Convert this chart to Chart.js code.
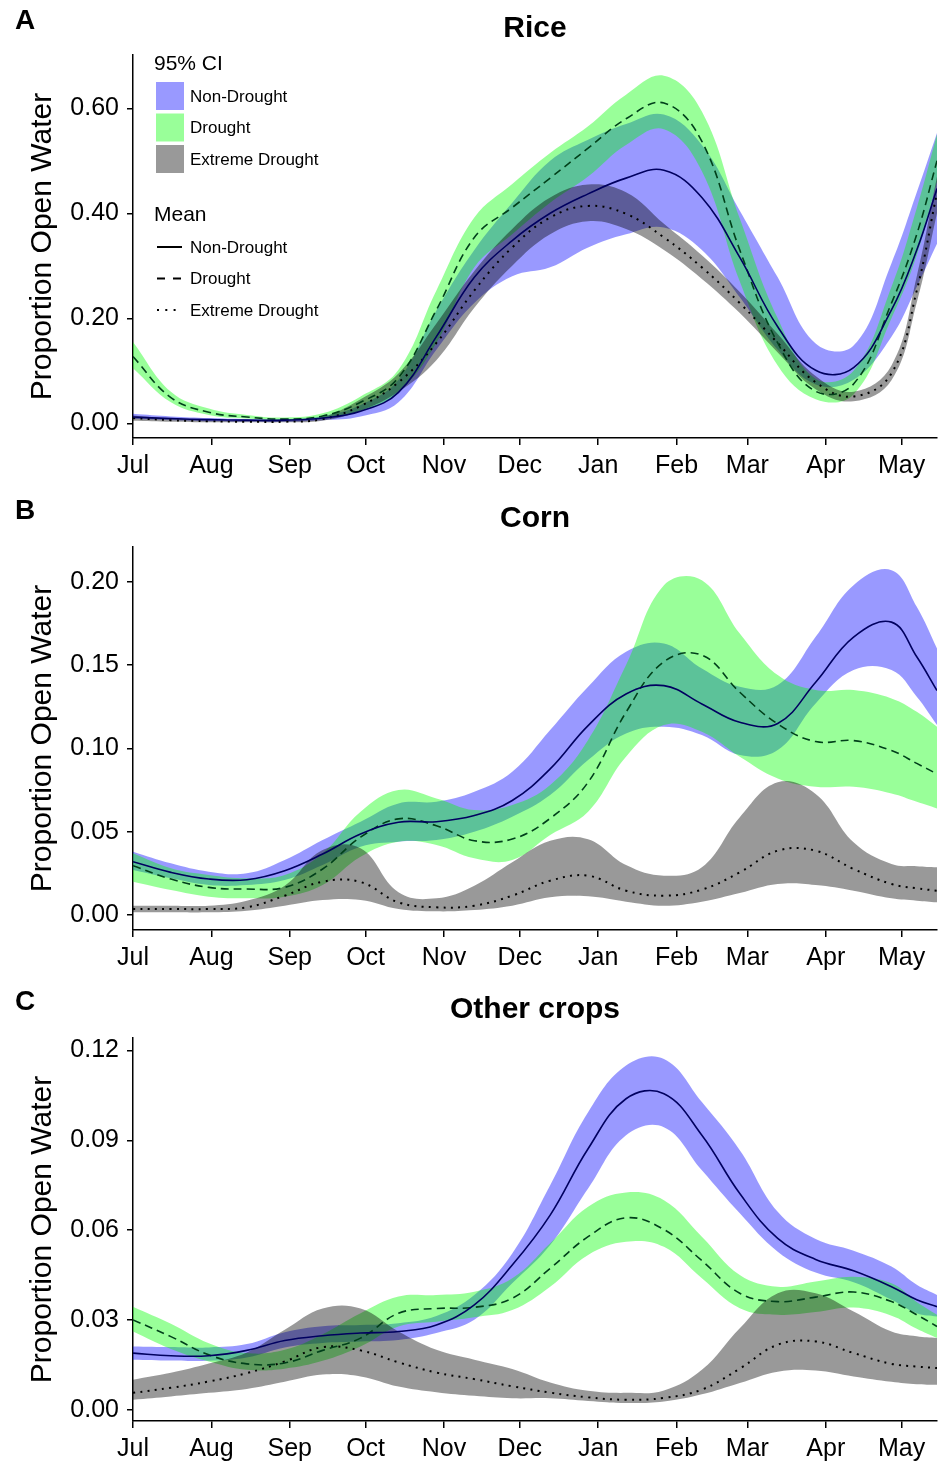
<!DOCTYPE html>
<html>
<head>
<meta charset="utf-8">
<script src="https://cdn.jsdelivr.net/npm/chart.js@4.4.1/dist/chart.umd.min.js"></script>
<style>
  body { margin: 0; background: #fff; }
  #wrap { position: relative; width: 944px; height: 1462px; overflow: hidden; background: #fff; }
  canvas { position: absolute; left: 0; }
</style>
</head>
<body>
<div id="wrap">
  <canvas id="rice" width="944" height="490" style="top:0px"></canvas>
  <canvas id="corn" width="944" height="490" style="top:490px"></canvas>
  <canvas id="other" width="944" height="490" style="top:981px"></canvas>
</div>
<script>
// sample days, counted from 1 July
const days = [0, 15, 30, 45, 60, 75, 90, 105, 120, 135, 150, 165, 180, 195, 210, 225, 240, 255, 270, 285, 300, 310, 318];
const monthDays = [0, 31, 62, 92, 123, 153, 184, 215, 243, 274, 304];
const monthLabels = ["Jul", "Aug", "Sep", "Oct", "Nov", "Dec", "Jan", "Feb", "Mar", "Apr", "May"];
const groupNames = ["Non-Drought", "Drought", "Extreme Drought"];

// Rice
const riceNonMean = [0.012, 0.009, 0.007, 0.006, 0.006, 0.010, 0.023, 0.059, 0.165, 0.278, 0.348, 0.400, 0.437, 0.467, 0.482, 0.430, 0.316, 0.184, 0.101, 0.106, 0.216, 0.330, 0.447];
const riceNonLo = [0.008, 0.006, 0.004, 0.003, 0.003, 0.006, 0.013, 0.040, 0.140, 0.229, 0.280, 0.297, 0.335, 0.360, 0.373, 0.330, 0.240, 0.140, 0.074, 0.083, 0.165, 0.260, 0.342];
const riceNonHi = [0.018, 0.013, 0.010, 0.008, 0.008, 0.014, 0.035, 0.083, 0.215, 0.330, 0.420, 0.500, 0.540, 0.570, 0.588, 0.530, 0.405, 0.278, 0.152, 0.148, 0.305, 0.440, 0.553];
const riceDrMean = [0.127, 0.049, 0.021, 0.012, 0.008, 0.014, 0.040, 0.087, 0.216, 0.354, 0.411, 0.467, 0.524, 0.580, 0.610, 0.537, 0.330, 0.153, 0.061, 0.075, 0.229, 0.360, 0.500];
const riceDrLo = [0.105, 0.040, 0.016, 0.009, 0.006, 0.010, 0.023, 0.059, 0.153, 0.297, 0.360, 0.420, 0.470, 0.530, 0.560, 0.480, 0.270, 0.110, 0.046, 0.055, 0.200, 0.320, 0.460];
const riceDrHi = [0.155, 0.060, 0.028, 0.016, 0.011, 0.019, 0.051, 0.102, 0.253, 0.392, 0.456, 0.515, 0.566, 0.626, 0.662, 0.594, 0.390, 0.200, 0.085, 0.100, 0.260, 0.410, 0.550];
const riceExMean = [0.010, 0.006, 0.004, 0.003, 0.003, 0.008, 0.033, 0.078, 0.153, 0.253, 0.335, 0.392, 0.414, 0.399, 0.354, 0.297, 0.229, 0.153, 0.078, 0.051, 0.095, 0.253, 0.440];
const riceExLo = [0.005, 0.003, 0.002, 0.002, 0.002, 0.005, 0.024, 0.060, 0.120, 0.220, 0.300, 0.360, 0.385, 0.370, 0.330, 0.275, 0.210, 0.135, 0.065, 0.042, 0.082, 0.230, 0.400];
const riceExHi = [0.015, 0.009, 0.006, 0.005, 0.005, 0.012, 0.046, 0.095, 0.190, 0.290, 0.370, 0.430, 0.455, 0.440, 0.380, 0.320, 0.250, 0.170, 0.090, 0.060, 0.110, 0.280, 0.470];
const riceTicks = [0, 0.2, 0.4, 0.6];

// Corn
const cornNonMean = [0.032, 0.0256, 0.0216, 0.0212, 0.0266, 0.0366, 0.0486, 0.0557, 0.056, 0.0597, 0.0687, 0.0877, 0.1137, 0.1327, 0.1377, 0.1267, 0.1157, 0.115, 0.1397, 0.1668, 0.1758, 0.155, 0.1347];
const cornNonLo = [0.027, 0.022, 0.018, 0.018, 0.021, 0.030, 0.041, 0.044, 0.045, 0.050, 0.059, 0.072, 0.093, 0.109, 0.113, 0.108, 0.096, 0.099, 0.127, 0.147, 0.147, 0.131, 0.114];
const cornNonHi = [0.038, 0.031, 0.026, 0.025, 0.033, 0.045, 0.056, 0.067, 0.068, 0.074, 0.086, 0.111, 0.137, 0.158, 0.163, 0.148, 0.137, 0.138, 0.167, 0.198, 0.207, 0.185, 0.160];
const cornDrMean = [0.0296, 0.0216, 0.0166, 0.0156, 0.0166, 0.0276, 0.0467, 0.0577, 0.0536, 0.0446, 0.0456, 0.058, 0.0797, 0.1217, 0.152, 0.156, 0.1337, 0.1147, 0.1041, 0.1047, 0.0987, 0.091, 0.0847];
const cornDrLo = [0.020, 0.015, 0.011, 0.010, 0.011, 0.018, 0.035, 0.044, 0.042, 0.034, 0.033, 0.048, 0.062, 0.095, 0.114, 0.110, 0.095, 0.082, 0.077, 0.077, 0.073, 0.068, 0.064];
const cornDrHi = [0.037, 0.028, 0.024, 0.022, 0.024, 0.037, 0.062, 0.075, 0.070, 0.063, 0.066, 0.078, 0.105, 0.150, 0.198, 0.201, 0.169, 0.144, 0.135, 0.135, 0.130, 0.122, 0.113];
const cornExMean = [0.0036, 0.0036, 0.0036, 0.0046, 0.0116, 0.020, 0.0198, 0.0076, 0.0046, 0.0056, 0.0116, 0.0206, 0.0236, 0.0146, 0.0116, 0.0152, 0.0256, 0.0386, 0.0386, 0.0276, 0.0186, 0.016, 0.0146];
const cornExLo = [0.0016, 0.0016, 0.0016, 0.0026, 0.0056, 0.009, 0.009, 0.0036, 0.0022, 0.003, 0.0056, 0.0106, 0.0112, 0.008, 0.0056, 0.008, 0.0132, 0.0186, 0.018, 0.0146, 0.010, 0.0086, 0.0076];
const cornExHi = [0.0056, 0.0056, 0.0056, 0.0086, 0.0176, 0.039, 0.040, 0.0136, 0.010, 0.0176, 0.0316, 0.0445, 0.0455, 0.030, 0.0236, 0.0286, 0.0587, 0.0797, 0.0727, 0.0437, 0.0306, 0.0293, 0.0286];
const cornTicks = [0, 0.05, 0.1, 0.15, 0.2];

// Other crops
const otherNonMean = [0.0189, 0.018, 0.018, 0.0198, 0.0231, 0.0247, 0.0256, 0.0261, 0.0283, 0.035, 0.0483, 0.065, 0.0872, 0.1039, 0.1056, 0.0917, 0.0722, 0.0572, 0.0502, 0.0464, 0.0411, 0.0367, 0.0344];
const otherNonLo = [0.0167, 0.0164, 0.0163, 0.0174, 0.0208, 0.0223, 0.0228, 0.0233, 0.0256, 0.030, 0.0422, 0.055, 0.0739, 0.0917, 0.0944, 0.080, 0.0656, 0.0528, 0.0458, 0.0426, 0.0367, 0.0322, 0.0311];
const otherNonHi = [0.0211, 0.0209, 0.0208, 0.0219, 0.0259, 0.0279, 0.0283, 0.0289, 0.0313, 0.0383, 0.0522, 0.075, 0.0994, 0.115, 0.1172, 0.1028, 0.0867, 0.0661, 0.057, 0.0531, 0.0478, 0.0417, 0.0383];
const otherDrMean = [0.030, 0.0244, 0.0183, 0.0153, 0.0156, 0.0198, 0.0239, 0.0322, 0.0338, 0.0342, 0.0372, 0.0472, 0.0578, 0.0641, 0.0602, 0.0498, 0.0389, 0.0361, 0.0376, 0.0393, 0.0361, 0.0317, 0.0278];
const otherDrLo = [0.0261, 0.0203, 0.0161, 0.0133, 0.0137, 0.0163, 0.0211, 0.0278, 0.0294, 0.0309, 0.0333, 0.0411, 0.0517, 0.0561, 0.0544, 0.0439, 0.0339, 0.0317, 0.0326, 0.0341, 0.0314, 0.027, 0.0239];
const otherDrHi = [0.0344, 0.0287, 0.0222, 0.0189, 0.020, 0.0252, 0.0322, 0.0378, 0.0383, 0.0394, 0.0439, 0.0556, 0.0678, 0.0726, 0.070, 0.0578, 0.045, 0.0411, 0.0428, 0.0444, 0.0422, 0.036, 0.0317];
const otherExMean = [0.0056, 0.0073, 0.0094, 0.0122, 0.0161, 0.0209, 0.0198, 0.0158, 0.0124, 0.0102, 0.0078, 0.0057, 0.0041, 0.0033, 0.0039, 0.0067, 0.0137, 0.0217, 0.0228, 0.0189, 0.0153, 0.0144, 0.0139];
const otherExLo = [0.0033, 0.0044, 0.0056, 0.0069, 0.0093, 0.0117, 0.0111, 0.0077, 0.0058, 0.0046, 0.0038, 0.0038, 0.0029, 0.0022, 0.0027, 0.0051, 0.0089, 0.0127, 0.0131, 0.0111, 0.0093, 0.0085, 0.0083];
const otherExHi = [0.010, 0.0123, 0.0154, 0.0191, 0.0267, 0.0338, 0.0338, 0.0261, 0.020, 0.0167, 0.0136, 0.0091, 0.0063, 0.0056, 0.0064, 0.0133, 0.0272, 0.0389, 0.0389, 0.0328, 0.0261, 0.0245, 0.0239];
const otherTicks = [0, 0.03, 0.06, 0.09, 0.12];

const FONT = "'Liberation Sans', Arial, sans-serif";
const fillColors = ["rgba(0,0,255,0.4)", "rgba(0,255,0,0.4)", "rgba(0,0,0,0.4)"];
const lineColors = ["#000060", "#00401a", "#000000"];
const lineDashes = [[], [8, 5], [2, 5.3]];

function pts(arr) {
  return arr.map((v, i) => ({ x: days[i], y: v }));
}

function buildDatasets(groups) {
  const base = { pointRadius: 0, tension: 0.4, borderWidth: 0, borderColor: "rgba(0,0,0,0)", fill: false };
  const ds = [];
  // bands: blue first, then green, grey on top
  groups.forEach((g, i) => {
    ds.push({ ...base, data: pts(g.lo), order: 9 });
    ds.push({ ...base, data: pts(g.hi), fill: ds.length - 1, backgroundColor: fillColors[i], order: 3 - i });
  });
  groups.forEach((g, i) => {
    ds.push({ ...base, data: pts(g.mean), borderColor: lineColors[i], borderWidth: i === 2 ? 2 : 1.6,
      borderDash: lineDashes[i], borderCapStyle: "butt", order: 0 });
  });
  return ds;
}

function drawLegend(ctx) {
  ctx.save();
  ctx.fillStyle = "#000";
  ctx.textAlign = "left";
  ctx.textBaseline = "middle";
  ctx.font = "21px " + FONT;
  ctx.fillText("95% CI", 154, 64);
  ctx.fillText("Mean", 154, 215);
  ctx.font = "17px " + FONT;
  groupNames.forEach((name, i) => {
    ctx.fillStyle = fillColors[i];
    ctx.fillRect(156, 82 + i * 31.5, 28, 28);
    ctx.fillStyle = "#000";
    ctx.fillText(name, 190, 97 + i * 31.5);
    ctx.fillText(name, 190, 248 + i * 31.5);
    ctx.beginPath();
    ctx.strokeStyle = "#000";
    ctx.lineWidth = 2;
    ctx.setLineDash(i === 0 ? [] : i === 1 ? [8, 8] : [2, 6.3]);
    ctx.moveTo(157, 247 + i * 31.5);
    ctx.lineTo(i === 2 ? 178 : 182, 247 + i * 31.5);
    ctx.stroke();
  });
  ctx.restore();
}

function panelText(letter, title, legend) {
  return {
    id: "panelText",
    afterDraw(chart) {
      const ctx = chart.ctx;
      const area = chart.chartArea;
      ctx.save();
      ctx.fillStyle = "#000";
      ctx.textBaseline = "middle";
      ctx.textAlign = "left";
      ctx.font = "bold 28px " + FONT;
      ctx.fillText(letter, 15, 21);
      ctx.textAlign = "center";
      ctx.font = "bold 30px " + FONT;
      ctx.fillText(title, (area.left + area.right) / 2, 29);
      ctx.translate(43, (area.top + area.bottom) / 2);
      ctx.rotate(-Math.PI / 2);
      ctx.font = "30px " + FONT;
      ctx.fillText("Proportion Open Water", 0, 0);
      ctx.restore();
      if (legend) drawLegend(ctx);
    }
  };
}

function makePanel(id, cfg) {
  const tickFont = { family: FONT, size: 25 };
  new Chart(document.getElementById(id), {
    type: "line",
    data: { datasets: buildDatasets(cfg.groups) },
    options: {
      responsive: false,
      animation: false,
      events: [],
      layout: { padding: { top: cfg.top, right: 7, left: 0, bottom: 0 } },
      plugins: { legend: { display: false }, tooltip: { enabled: false }, title: { display: false } },
      scales: {
        x: {
          type: "linear", min: 0, max: 318,
          border: { color: "#000", width: 1.5 },
          grid: { drawOnChartArea: false, color: "#000", lineWidth: 1.5, tickLength: 7 },
          afterBuildTicks: (s) => { s.ticks = monthDays.map((v) => ({ value: v })); },
          afterFit: (s) => { s.height = cfg.xh; },
          ticks: { autoSkip: false, maxRotation: 0, padding: 6, color: "#000", font: tickFont,
            callback: (v, i) => monthLabels[i] }
        },
        y: {
          min: cfg.min, max: cfg.max,
          border: { color: "#000", width: 1.5 },
          grid: { drawOnChartArea: false, color: "#000", lineWidth: 1.5, tickLength: 6 },
          afterBuildTicks: (s) => { s.ticks = cfg.ticks.map((v) => ({ value: v })); },
          afterFit: (s) => { s.width = 133; },
          ticks: { padding: 8, color: "#000", font: tickFont, callback: (v) => v.toFixed(2) }
        }
      }
    },
    plugins: [panelText(cfg.letter, cfg.title, cfg.legend)]
  });
}

makePanel("rice", {
  letter: "A", title: "Rice", legend: true, top: 55, xh: 52, min: -0.028, max: 0.7015, ticks: riceTicks,
  groups: [
    { lo: riceNonLo, mean: riceNonMean, hi: riceNonHi },
    { lo: riceDrLo, mean: riceDrMean, hi: riceDrHi },
    { lo: riceExLo, mean: riceExMean, hi: riceExHi }
  ]
});

makePanel("corn", {
  letter: "B", title: "Corn", legend: false, top: 57, xh: 50, min: -0.009, max: 0.2209, ticks: cornTicks,
  groups: [
    { lo: cornNonLo, mean: cornNonMean, hi: cornNonHi },
    { lo: cornDrLo, mean: cornDrMean, hi: cornDrHi },
    { lo: cornExLo, mean: cornExMean, hi: cornExHi }
  ]
});

makePanel("other", {
  letter: "C", title: "Other crops", legend: false, top: 57, xh: 50, min: -0.0038, max: 0.1242, ticks: otherTicks,
  groups: [
    { lo: otherNonLo, mean: otherNonMean, hi: otherNonHi },
    { lo: otherDrLo, mean: otherDrMean, hi: otherDrHi },
    { lo: otherExLo, mean: otherExMean, hi: otherExHi }
  ]
});
</script>
</body>
</html>
